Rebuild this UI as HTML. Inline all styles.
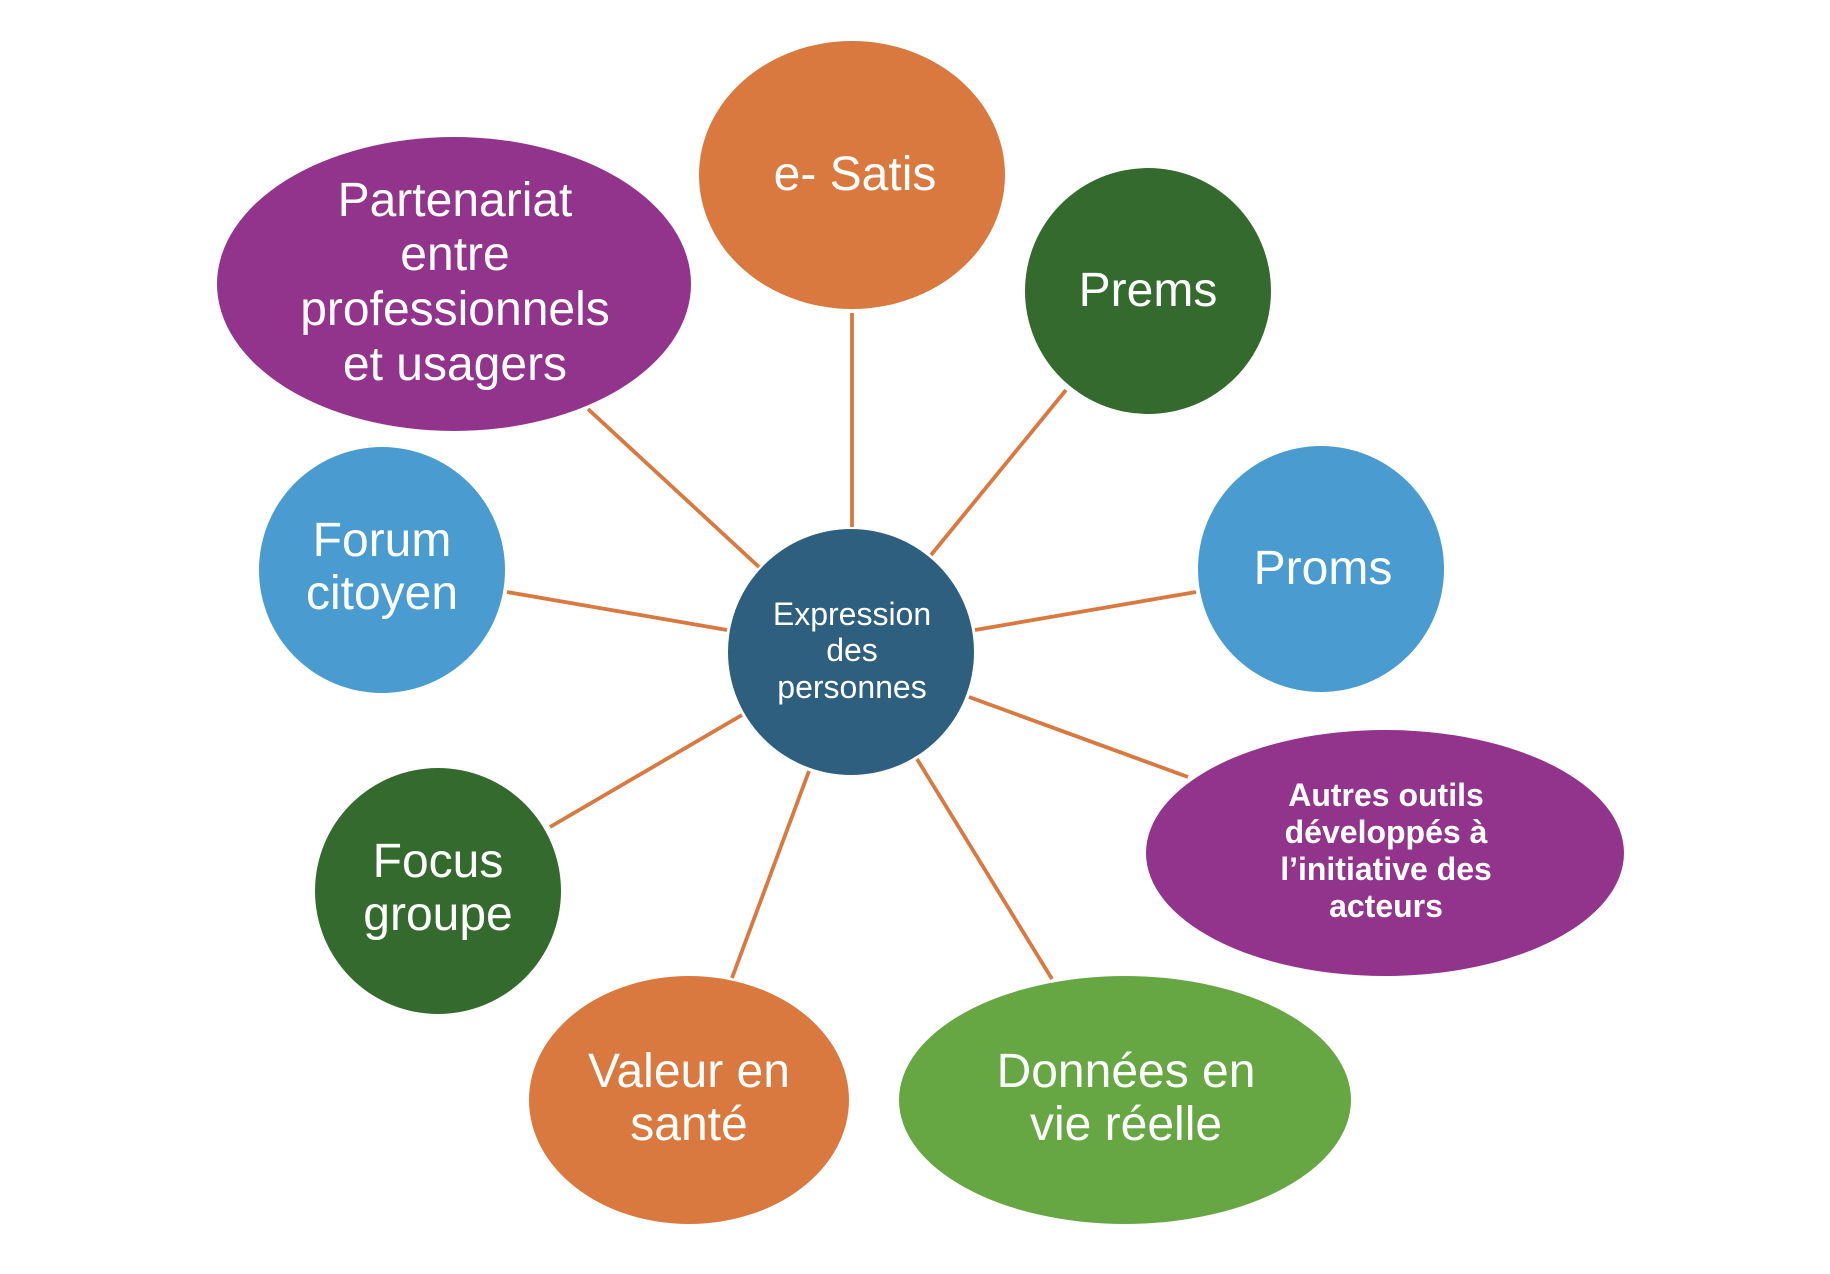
<!DOCTYPE html>
<html>
<head>
<meta charset="utf-8">
<style>
  html, body { margin: 0; padding: 0; background: #ffffff; }
  body { width: 1830px; height: 1274px; overflow: hidden; }
  svg { display: block; }
  text { font-family: "Liberation Sans", "DejaVu Sans", sans-serif; fill: #ffffff; text-anchor: middle; }
</style>
</head>
<body>
<svg width="1830" height="1274" viewBox="0 0 1830 1274" xmlns="http://www.w3.org/2000/svg">
  <rect x="0" y="0" width="1830" height="1274" fill="#ffffff"/>

  <!-- connectors -->
  <g stroke="#D9793F" stroke-width="3.8" stroke-linecap="butt" fill="none">
    <line x1="852" y1="313" x2="852" y2="527"/>
    <line x1="1066" y1="390" x2="931" y2="555"/>
    <line x1="588" y1="409" x2="759" y2="567"/>
    <line x1="507" y1="592" x2="727" y2="630"/>
    <line x1="975" y1="630" x2="1196" y2="592"/>
    <line x1="969" y1="697" x2="1188" y2="777"/>
    <line x1="550" y1="827" x2="742" y2="715"/>
    <line x1="809" y1="771" x2="732" y2="978"/>
    <line x1="917" y1="759" x2="1052" y2="979"/>
  </g>

  <!-- nodes -->
  <ellipse cx="852" cy="175" rx="153" ry="134" fill="#D9793F"/>
  <ellipse cx="1148" cy="291" rx="123" ry="123" fill="#356A2F"/>
  <ellipse cx="454" cy="284" rx="237" ry="147" fill="#92348C"/>
  <ellipse cx="382" cy="570" rx="123" ry="123" fill="#4A9CD0"/>
  <ellipse cx="1321" cy="569" rx="123" ry="123" fill="#4A9CD0"/>
  <ellipse cx="851" cy="652" rx="123" ry="123" fill="#2E5F7E"/>
  <ellipse cx="1385" cy="853" rx="239" ry="123" fill="#92348C"/>
  <ellipse cx="438" cy="891" rx="123" ry="123" fill="#356A2F"/>
  <ellipse cx="689" cy="1100" rx="160" ry="124" fill="#D9793F"/>
  <ellipse cx="1125" cy="1100" rx="226" ry="124" fill="#67A743"/>

  <!-- labels -->
  <g font-size="48">
    <text x="855" y="190">e- Satis</text>
    <text x="1148" y="306">Prems</text>
    <text x="1323" y="584">Proms</text>

    <text x="455" y="216">Partenariat</text>
    <text x="455" y="270">entre</text>
    <text x="455" y="325">professionnels</text>
    <text x="455" y="380">et usagers</text>

    <text x="382" y="556">Forum</text>
    <text x="382" y="609">citoyen</text>

    <text x="438" y="877">Focus</text>
    <text x="438" y="930">groupe</text>

    <text x="689" y="1087">Valeur en</text>
    <text x="689" y="1140">santé</text>

    <text x="1126" y="1087">Données en</text>
    <text x="1126" y="1140">vie réelle</text>
  </g>

  <g font-size="32">
    <text x="852" y="625">Expression</text>
    <text x="852" y="661">des</text>
    <text x="852" y="698">personnes</text>
  </g>

  <g font-size="32" font-weight="bold">
    <text x="1386" y="806">Autres outils</text>
    <text x="1386" y="843">développés à</text>
    <text x="1386" y="880">l’initiative des</text>
    <text x="1386" y="917">acteurs</text>
  </g>
</svg>
</body>
</html>
